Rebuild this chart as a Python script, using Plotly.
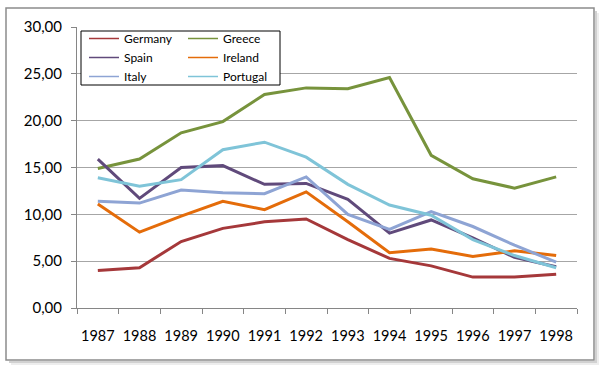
import plotly.graph_objects as go

years = ["1987", "1988", "1989", "1990", "1991", "1992", "1993", "1994", "1995", "1996", "1997", "1998"]
germany = [4.0, 4.3, 7.1, 8.5, 9.2, 9.5, 7.3, 5.3, 4.5, 3.3, 3.3, 3.6]
greece = [14.9, 15.9, 18.7, 19.9, 22.8, 23.5, 23.4, 24.6, 16.3, 13.8, 12.8, 14.0]
spain = [15.9, 11.7, 15.0, 15.2, 13.2, 13.3, 11.6, 8.0, 9.4, 7.5, 5.4, 4.4]
ireland = [11.1, 8.1, 9.8, 11.4, 10.5, 12.4, 9.2, 5.9, 6.3, 5.5, 6.1, 5.6]
italy = [11.4, 11.2, 12.6, 12.3, 12.2, 14.0, 10.0, 8.4, 10.3, 8.7, 6.7, 4.9]
portugal = [13.9, 13.0, 13.7, 16.9, 17.7, 16.1, 13.2, 11.0, 9.9, 7.3, 5.6, 4.3]

series = [
    ("Germany", germany, "#A5383A", "legend"),
    ("Greece", greece, "#77933C", "legend2"),
    ("Spain", spain, "#604A7B", "legend"),
    ("Ireland", ireland, "#E46C0A", "legend2"),
    ("Italy", italy, "#8EA4D4", "legend"),
    ("Portugal", portugal, "#7FC4D8", "legend2"),
]

W, H = 600, 375
L, R, T, B = 77, 23, 27, 67
pw, ph = W - L - R, H - T - B

def px_x(p):
    return (p - L) / pw

def px_y(p):
    return (H - B - p) / ph

fig = go.Figure()
for name, vals, color, lg in series:
    fig.add_trace(go.Scatter(x=years, y=vals, mode="lines", name=name,
                             line=dict(color=color, width=3), showlegend=False))
for name, vals, color, lg in series:
    fig.add_trace(go.Scatter(x=[None], y=[None], mode="lines", name=name,
                             line=dict(color=color, width=1.5), legend=lg, showlegend=True))

font = "Lato, Calibri, 'Open Sans', sans-serif"

def rect(x0, y0, x1, y1, **kw):
    return dict(type="rect", xref="paper", yref="paper", layer="above",
                x0=px_x(x0), x1=px_x(x1), y0=px_y(y1), y1=px_y(y0), **kw)

shapes = [
    # shadow strips (right and bottom)
    rect(595, 11, 597, 363, fillcolor="rgba(0,0,0,0.18)", line=dict(width=0)),
    rect(597, 13, 599, 365, fillcolor="rgba(0,0,0,0.07)", line=dict(width=0)),
    rect(9, 361, 595, 363, fillcolor="rgba(0,0,0,0.18)", line=dict(width=0)),
    rect(11, 363, 597, 365, fillcolor="rgba(0,0,0,0.07)", line=dict(width=0)),
    # frame
    rect(6, 8, 594, 360, fillcolor="rgba(0,0,0,0)", line=dict(color="#8C8C8C", width=1.5)),
    # legend box
    rect(81, 31, 280, 85, fillcolor="white", line=dict(color="#000000", width=1)),
]

legend_common = dict(bgcolor="rgba(0,0,0,0)", borderwidth=0, orientation="v",
                     font=dict(family=font, size=12, color="#000000"),
                     yanchor="top", xanchor="left", tracegroupgap=0)

fig.update_layout(
    width=W, height=H,
    margin=dict(l=L, r=R, t=T, b=B, autoexpand=False),
    paper_bgcolor="white",
    plot_bgcolor="white",
    separators=", ",
    shapes=shapes,
    legend=dict(x=px_x(84), y=px_y(24), **legend_common),
    legend2=dict(x=px_x(183), y=px_y(24), **legend_common),
    xaxis=dict(type="category", range=[-0.5, len(years) - 0.5], tickson="boundaries",
               ticks="outside", ticklen=5, tickangle=0,
               tickcolor="#868686", showline=True, linecolor="#868686", linewidth=1,
               showgrid=False, tickfont=dict(family=font, size=14.5, color="#000000"),
               ticklabelstandoff=15, fixedrange=True),
    yaxis=dict(range=[0, 30], dtick=5, tickformat=".2f", ticks="outside", ticklen=5,
               tickcolor="#868686", showline=True, linecolor="#868686", linewidth=1,
               showgrid=True, gridcolor="#A6A6A6", gridwidth=1, zeroline=False,
               tickfont=dict(family=font, size=15, color="#000000"),
               ticklabelstandoff=6, fixedrange=True),
)

fig.write_html("out.html", config={"displayModeBar": False},
               post_script="document.body.style.margin='0';")
